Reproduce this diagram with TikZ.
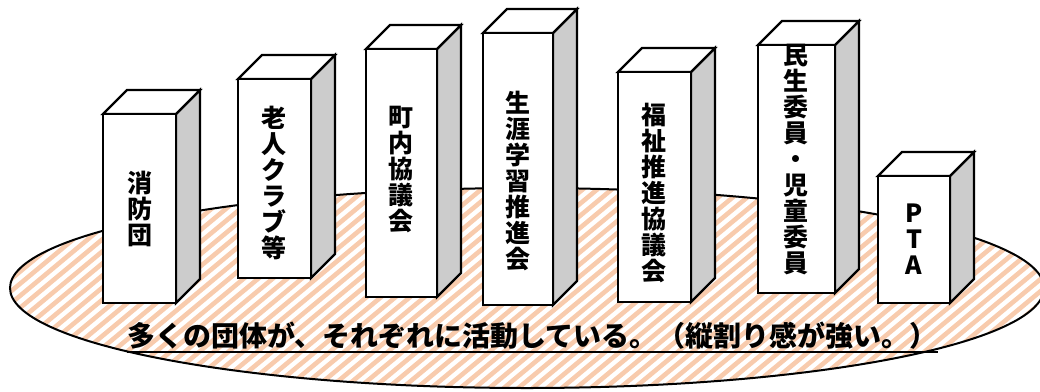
\documentclass[tikz,border=0pt]{standalone}
\usepackage{fontspec}
\newfontfamily\jpfont{Noto Sans CJK JP}
\definecolor{stripe}{HTML}{F8CBAD}
\definecolor{sidegray}{HTML}{CCCCCC}

\begin{document}
\begin{tikzpicture}[x=1pt,y=-1pt,
    face/.style={draw, line width=2.2pt, line join=miter, fill=white},
    sideface/.style={face, fill=sidegray},
    tag/.style={font=\jpfont\bfseries\fontsize{25}{26}\selectfont, align=center, inner sep=0pt},
    caption/.style={font=\jpfont\bfseries\fontsize{28}{30}\selectfont, inner sep=0pt}]
    \useasboundingbox (0,0) rectangle (1040,391);
    \coordinate (C) at (527,288);

    % floor
    \begin{scope}
        \clip (C) ellipse [x radius=517, y radius=100];
        \foreach \s in {-250,-235.5,...,1100}
            \draw[stripe, line width=4.6pt] (\s,400) -- ++(264,-220);
    \end{scope}
    \draw[line width=2pt] (C) ellipse [x radius=517, y radius=100];

    % pillars: left/right/top/bottom of the front face
    \foreach \l/\r/\t/\b in {103/176/114/303, 238/311/79/278, 366/437/49/297,
        483/553/33/305, 618/691/72/302, 758/835/45/293, 878/950/176/303} {
        \draw[sideface] (\r,\t) -- ++(24,-24) -- ++(0,\b-\t) -- (\r,\b) -- cycle; % side
        \draw[face] (\l,\t) -- ++(24,-24) -- ++(\r-\l,0) -- (\r,\t) -- cycle; % top
        \draw[face] (\l,\t) rectangle (\r,\b); % front
    }

    \node[tag] (fire) at (140,209) {消\\防\\団};
    \node[tag] (elder) at (274,183) {老\\人\\ク\\ラ\\ブ\\等};
    \node[tag] (town) at (401,170) {町\\内\\協\\議\\会};
    \node[tag] (learn) at (518,181) {生\\涯\\学\\習\\推\\進\\会};
    \node[tag] (welfare) at (654,193) {福\\祉\\推\\進\\協\\議\\会};
    \node[tag] (minsei) at (796,160) {民\\生\\委\\員\\・\\児\\童\\委\\員};
    \node[tag] (pta) at (914,239) {P\\T\\A};

    % caption
    \node[caption, anchor=base west] (note) at (127,346)
        {多くの団体が、それぞれに活動している。（縦割り感が強い。）};
    \draw[line width=1.8pt] ([yshift=-6pt]note.base west) -- ([yshift=-6pt]note.base east);
\end{tikzpicture}
\end{document}
